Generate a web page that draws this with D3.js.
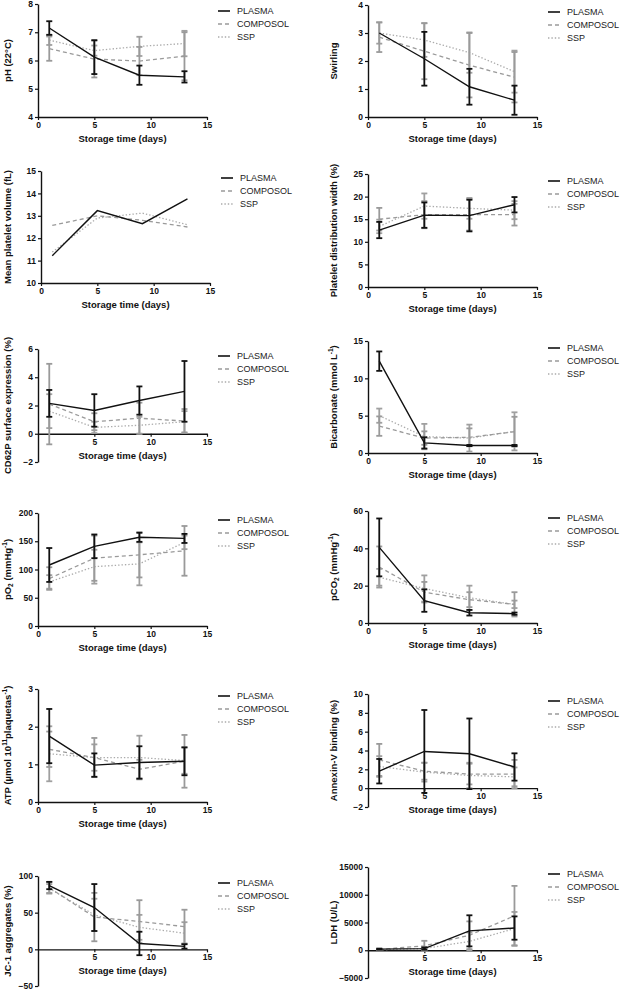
<!DOCTYPE html>
<html><head><meta charset="utf-8">
<script src="https://cdn.jsdelivr.net/npm/d3@7"></script>
<style>
html,body{margin:0;padding:0;background:#fff;}
svg{display:block;font-family:"Liberation Sans",Arial,sans-serif;}
</style></head>
<body>
<svg id="chart" width="620" height="992"></svg>
<script>
const days = [1, 5, 9, 13];
const seriesNames = ["PLASMA", "COMPOSOL", "SSP"];
const xTicks = [0, 5, 10, 15];

// Each mean/err array: [PLASMA, COMPOSOL, SSP]
const phMean = [[7.15, 6.12, 5.48, 5.42], [6.42, 6.05, 5.98, 6.15], [6.72, 6.35, 6.50, 6.60]];
const phErr  = [[0.24, 0.60, 0.34, 0.20], [0.43, 0.65, 0.50, 0.85], [0.17, 0.18, 0.34, 0.45]];
const phTicks = [4, 5, 6, 7, 8];

const swMean = [[3.0, 2.08, 1.08, 0.6], [2.85, 2.35, 1.85, 1.42], [3.0, 2.75, 2.3, 1.62]];
const swErr  = [[0, 0.96, 0.64, 0.52], [0.53, 1.0, 1.15, 0.9], [0.38, 0.6, 0.72, 0.75]];
const swTicks = [0, 1, 2, 3, 4];

const mpvMean = [[11.22, 13.23, 12.65, 13.76], [12.57, 13.0, 12.8, 12.5], [11.38, 12.9, 13.12, 12.6]];
const mpvErr  = [[0, 0, 0, 0], [0, 0, 0, 0], [0, 0, 0, 0]];
const mpvTicks = [10, 11, 12, 13, 14, 15];

const pdwMean = [[12.6, 15.9, 15.8, 18.2], [15.0, 16.0, 16.0, 16.0], [13.4, 17.9, 17.4, 17.0]];
const pdwErr  = [[1.8, 2.8, 3.5, 1.7], [2.5, 3.0, 3.5, 2.4], [1.5, 2.8, 2.3, 2.0]];
const pdwTicks = [0, 5, 10, 15, 20, 25];

const cdMean = [[2.15, 1.65, 2.35, 3.0], [2.1, 0.85, 1.1, 0.9], [1.6, 0.45, 0.6, 0.85]];
const cdErr  = [[0.95, 1.15, 1.0, 2.15], [2.85, 0.6, 1.1, 0.85], [1.2, 0.4, 0.6, 0.75]];
const cdTicks = [-2, 0, 2, 4, 6];

const bicMean = [[12.3, 1.35, 1.0, 1.0], [3.6, 2.0, 2.1, 2.85], [5.0, 2.2, 2.0, 2.9]];
const bicErr  = [[1.3, 0.75, 0.08, 0.08], [1.3, 0.9, 1.2, 2.0], [0.95, 1.7, 1.8, 2.55]];
const bicTicks = [0, 5, 10, 15];

const po2Mean = [[108, 141, 157, 155], [84, 120, 126, 133], [78, 105, 110, 148]];
const po2Err  = [[30, 21, 8, 8], [20, 40, 40, 44], [12, 30, 38, 12]];
const po2Ticks = [0, 50, 100, 150, 200];

const pco2Mean = [[40.5, 12, 5.5, 5.0], [30, 16.5, 12.5, 10], [24.5, 18.5, 13.5, 10]];
const pco2Err  = [[15.5, 6, 1.5, 0.6], [11, 5.5, 4, 6.5], [4.5, 7, 6.5, 2]];
const pco2Ticks = [0, 20, 40, 60];

const atpMean = [[1.75, 0.98, 1.05, 1.08], [1.4, 1.18, 0.87, 1.08], [1.28, 1.18, 1.18, 1.1]];
const atpErr  = [[0.72, 0.31, 0.43, 0.37], [0.47, 0.52, 0.25, 0.7], [0.73, 0.35, 0.58, 0.35]];
const atpTicks = [0, 1, 2, 3];

const anxMean = [[1.8, 3.9, 3.65, 2.25], [3.0, 1.8, 1.5, 1.5], [2.3, 1.7, 1.35, 1.2]];
const anxErr  = [[1.3, 4.4, 3.75, 1.45], [1.7, 0.9, 1.1, 1.5], [1.1, 1.0, 1.35, 1.0]];
const anxTicks = [-2, 0, 2, 4, 6, 8, 10];

const jcMean = [[87, 57, 8, 4], [84, 44, 38, 31], [83, 47, 30, 22]];
const jcErr  = [[5, 32, 16, 3], [8, 33, 29, 23], [6, 22, 17, 15]];
const jcTicks = [-50, 0, 50, 100];

const ldhMean = [[200, 300, 3500, 4000], [150, 800, 2700, 6200], [100, 300, 1600, 3900]];
const ldhErr  = [[100, 200, 2800, 2100], [100, 900, 2500, 5400], [80, 300, 1600, 3000]];
const ldhTicks = [-5000, 0, 5000, 10000, 15000];

// label segments: [text, mode]
const panels = [
  {label: [["pH (22°C)", ""]], mean: phMean, err: phErr, ticks: phTicks, x0: 38, yT: 4, yB: 117, zero: false, lx: 7},
  {label: [["Swirling", ""]], mean: swMean, err: swErr, ticks: swTicks, x0: 368, yT: 5, yB: 117, zero: false, lx: 333},
  {label: [["Mean platelet volume (fL)", ""]], mean: mpvMean, err: mpvErr, ticks: mpvTicks, x0: 41, yT: 171, yB: 283, zero: false, lx: 7},
  {label: [["Platelet distribution width (%)", ""]], mean: pdwMean, err: pdwErr, ticks: pdwTicks, x0: 368, yT: 174, yB: 287, zero: false, lx: 333},
  {label: [["CD62P surface expression (%)", ""]], mean: cdMean, err: cdErr, ticks: cdTicks, x0: 38, yT: 349, yB: 462, zero: true, lx: 7},
  {label: [["Bicarbonate (mmol L", ""], ["-1", "sup"], [")", ""]], mean: bicMean, err: bicErr, ticks: bicTicks, x0: 368, yT: 341, yB: 453, zero: false, lx: 333},
  {label: [["pO", ""], ["2", "sub"], [" (mmHg", ""], ["-1", "sup"], [")", ""]], mean: po2Mean, err: po2Err, ticks: po2Ticks, x0: 38, yT: 513, yB: 626, zero: false, lx: 7},
  {label: [["pCO", ""], ["2", "sub"], [" (mmHg", ""], ["-1", "sup"], [")", ""]], mean: pco2Mean, err: pco2Err, ticks: pco2Ticks, x0: 368, yT: 511, yB: 623, zero: false, lx: 333},
  {label: [["ATP (µmol 10", ""], ["11", "sup"], ["plaquetas", ""], ["-1", "sup"], [")", ""]], mean: atpMean, err: atpErr, ticks: atpTicks, x0: 38, yT: 689, yB: 802, zero: false, lx: 7},
  {label: [["Annexin-V binding (%)", ""]], mean: anxMean, err: anxErr, ticks: anxTicks, x0: 368, yT: 694, yB: 807, zero: true, lx: 333},
  {label: [["JC-1 aggregates (%)", ""]], mean: jcMean, err: jcErr, ticks: jcTicks, x0: 38, yT: 876, yB: 986, zero: true, lx: 7},
  {label: [["LDH (U/L)", ""]], mean: ldhMean, err: ldhErr, ticks: ldhTicks, x0: 368, yT: 867, yB: 978, zero: true, lx: 333}
];

const styles = [
  {color: "#111", width: 1.4, dash: null, errColor: "#111"},
  {color: "#9a9a9a", width: 1.3, dash: "4,3", errColor: "#9a9a9a"},
  {color: "#ababab", width: 1.3, dash: "1.4,2", errColor: "#a0a0a0"}
];

const svg = d3.select("#chart");
const plotW = 169;

panels.forEach(p => {
  const g = svg.append("g");
  const x = d3.scaleLinear().domain([0, 15]).range([p.x0, p.x0 + plotW]);
  const dom = [p.ticks[0], p.ticks[p.ticks.length - 1]];
  const y = d3.scaleLinear().domain(dom).range([p.yB, p.yT]);
  const axisVal = p.zero ? 0 : dom[0];
  const axisY = y(axisVal);

  // y axis
  const ya = g.append("g").attr("transform", `translate(${p.x0},0)`)
    .call(d3.axisLeft(y).tickValues(p.ticks).tickSize(3).tickSizeOuter(0).tickPadding(2).tickFormat(d3.format("d")));
  // x axis
  const xt = p.zero ? xTicks.filter(t => t !== 0) : xTicks;
  const xa = g.append("g").attr("transform", `translate(0,${axisY})`)
    .call(d3.axisBottom(x).tickValues(xt).tickSize(3).tickSizeOuter(0).tickPadding(2).tickFormat(d3.format("d")));
  [ya, xa].forEach(a => {
    a.select(".domain").attr("stroke", "#111").attr("stroke-width", 1.4);
    a.selectAll(".tick line").attr("stroke", "#111").attr("stroke-width", 1.2);
    a.selectAll(".tick text").attr("fill", "#111").attr("font-size", 8.5).attr("font-weight", "bold")
      .attr("font-family", '"Liberation Sans",Arial,sans-serif');
  });

  // x label
  g.append("text").attr("x", p.x0 + plotW / 2).attr("y", axisY + 25)
    .attr("text-anchor", "middle").attr("font-size", 9.5).attr("font-weight", "bold").attr("fill", "#111")
    .text("Storage time (days)");

  // y label
  const cy = (p.yT + p.yB) / 2;
  const yl = g.append("text").attr("transform", `translate(${p.lx + 3.5},${cy}) rotate(-90)`)
    .attr("text-anchor", "middle").attr("font-size", 9.5).attr("font-weight", "bold").attr("fill", "#111");
  let shift = 0;
  p.label.forEach(([t, mode]) => {
    const ts = yl.append("tspan").text(t);
    const target = mode === "sub" ? 2.5 : mode === "sup" ? -3.5 : 0;
    if (mode) ts.attr("font-size", 6.5);
    ts.attr("dy", target - shift);
    shift = target;
  });

  // series: draw SSP, COMPOSOL, then PLASMA
  [2, 1, 0].forEach(si => {
    const st = styles[si];
    const mean = p.mean[si], err = p.err[si];
    days.forEach((dd, i) => {
      if (!err[i]) return;
      const cx = x(dd), y1 = y(mean[i] + err[i]), y2 = y(mean[i] - err[i]);
      g.append("line").attr("x1", cx).attr("x2", cx).attr("y1", y1).attr("y2", y2)
        .attr("stroke", st.errColor).attr("stroke-width", 1.8);
      [y1, y2].forEach(yy => g.append("line").attr("x1", cx - 3).attr("x2", cx + 3).attr("y1", yy).attr("y2", yy)
        .attr("stroke", st.errColor).attr("stroke-width", 1.8));
    });
    const line = d3.line().x((d, i) => x(days[i])).y(d => y(d));
    const path = g.append("path").datum(mean).attr("d", line).attr("fill", "none")
      .attr("stroke", st.color).attr("stroke-width", st.width);
    if (st.dash) path.attr("stroke-dasharray", st.dash);
  });

  // legend
  const ly0 = p.yT + 7;
  seriesNames.forEach((name, si) => {
    const st = styles[si];
    const ly = ly0 + si * 13;
    const ln = g.append("line").attr("x1", p.x0 + 180).attr("x2", p.x0 + 192).attr("y1", ly).attr("y2", ly)
      .attr("stroke", st.color).attr("stroke-width", si === 0 ? 1.6 : 1.3);
    if (st.dash) ln.attr("stroke-dasharray", st.dash);
    g.append("text").attr("x", p.x0 + 199).attr("y", ly + 3.3).attr("font-size", 9).attr("fill", "#222").text(name);
  });
});
</script>
</body></html>
